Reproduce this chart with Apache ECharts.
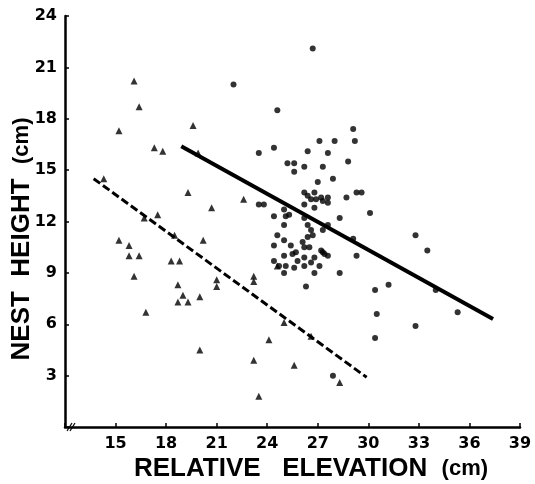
<!DOCTYPE html>
<html>
<head>
<meta charset="utf-8">
<script src="https://cdn.jsdelivr.net/npm/echarts@6/dist/echarts.min.js"></script>
<style>
  html, body { margin: 0; padding: 0; background: #fff; }
  #chart { width: 535px; height: 484px; }
</style>
</head>
<body>
<div id="chart"></div>
<script>
// triangles (left group)
const trianglePoints = [
  [16.1, 20.2], [16.4, 18.7], [15.2, 17.3], [19.6, 17.6], [17.3, 16.3], [17.8, 16.1],
  [19.9, 16.0], [14.3, 14.5], [19.3, 13.7], [22.6, 13.3], [20.7, 12.8], [17.5, 12.4],
  [16.7, 12.2], [18.5, 11.2], [20.2, 10.9], [15.2, 10.9], [15.8, 10.6], [15.8, 10.0],
  [16.4, 10.0], [16.1, 8.8], [16.8, 6.7], [18.3, 9.7], [18.8, 9.7], [18.7, 8.3],
  [19.0, 7.7], [18.7, 7.3], [19.3, 7.3], [20.0, 7.6], [21.0, 8.6], [21.0, 8.2],
  [20.0, 4.5], [23.2, 8.8], [23.2, 8.5], [23.2, 3.9], [23.5, 1.8], [24.1, 5.1],
  [25.0, 6.1], [25.6, 3.6], [26.6, 5.3], [28.3, 2.6], [24.6, 9.4]
];

// circles (right group)
const circlePoints = [
  [22.0, 20.0], [23.5, 16.0], [23.5, 13.0], [23.8, 13.0], [24.4, 12.3], [26.7, 22.1],
  [24.6, 18.5], [24.4, 16.3], [29.1, 17.4], [29.2, 16.7], [27.1, 16.7], [28.0, 16.7],
  [26.4, 16.1], [27.6, 16.0], [25.2, 15.4], [25.6, 15.4], [28.8, 15.5], [26.2, 15.2],
  [27.3, 15.2], [25.6, 14.9], [27.9, 14.5], [27.0, 14.3], [26.2, 13.7], [26.8, 13.7],
  [29.3, 13.7], [29.6, 13.7], [28.7, 13.4], [26.4, 13.5], [26.6, 13.3], [26.9, 13.3],
  [27.2, 13.4], [27.3, 13.2], [27.6, 13.4], [27.6, 13.1], [26.2, 13.0], [26.8, 12.8],
  [30.1, 12.5], [25.0, 12.7], [25.1, 12.3], [25.3, 12.4], [25.0, 11.8], [26.2, 12.2],
  [28.3, 12.2], [26.4, 11.8], [26.6, 11.5], [26.4, 11.1], [26.7, 11.2], [27.6, 11.8],
  [27.3, 11.5], [29.1, 11.0], [24.6, 11.2], [25.0, 10.9], [24.4, 10.6], [25.4, 10.6],
  [26.1, 10.8], [26.2, 10.5], [26.5, 10.5], [27.2, 10.3], [27.3, 10.2], [27.6, 10.0],
  [27.4, 10.1], [25.7, 10.2], [25.5, 10.1], [25.0, 10.0], [29.3, 10.0], [26.2, 9.9],
  [26.8, 9.9], [24.4, 9.7], [25.8, 9.7], [26.6, 9.6], [24.7, 9.4], [25.1, 9.4],
  [25.0, 9.0], [25.6, 9.3], [26.2, 9.4], [27.1, 9.4], [26.8, 9.0], [28.3, 9.0],
  [26.3, 8.2], [30.4, 8.0], [31.2, 8.3], [32.8, 11.2], [33.5, 10.3], [34.0, 8.0],
  [35.3, 6.7], [30.5, 6.6], [32.8, 5.9], [30.4, 5.2], [27.9, 3.0]
];

// fitted lines
const solidFit = [[18.9, 16.4], [37.4, 6.3]];
const dashedFit = [[13.7, 14.5], [29.9, 2.9]];

const chart = echarts.init(document.getElementById('chart'));

const tickFont = { fontFamily: 'DejaVu Sans', fontWeight: 'bold', fontSize: 16, color: '#000' };
const titleRich = {
  a: { fontFamily: 'Liberation Sans', fontWeight: 'bold', fontSize: 26, color: '#000' },
  b: { fontFamily: 'Liberation Sans', fontWeight: 'bold', fontSize: 22, color: '#000' }
};

chart.setOption({
  animation: false,
  backgroundColor: '#fff',
  grid: { left: 65, right: 15, top: 16, bottom: 57, outerBoundsMode: 'none' },
  xAxis: {
    type: 'value',
    min: 12,
    max: 39,
    interval: 3,
    splitLine: { show: false },
    axisLine: { lineStyle: { color: '#000', width: 2.5 } },
    axisTick: { inside: true, length: 4, lineStyle: { color: '#000', width: 1.5 } },
    axisLabel: Object.assign({ margin: 9, formatter: v => (v === 12 ? '' : v) }, tickFont),
    name: '{a|RELATIVE}   {a|ELEVATION}  {b|(cm)}',
    nameLocation: 'middle',
    nameGap: 29,
    nameMoveOverlap: false,
    nameTextStyle: { fontFamily: 'Liberation Sans', fontWeight: 'bold', fontSize: 26, padding: [0, 0, 0, 37], rich: titleRich }
  },
  yAxis: {
    type: 'value',
    min: 0,
    max: 24,
    interval: 3,
    splitLine: { show: false },
    axisLine: { lineStyle: { color: '#000', width: 2.5 } },
    axisTick: { inside: true, length: 4, lineStyle: { color: '#000', width: 1.5 } },
    axisLabel: Object.assign({ margin: 8, formatter: v => (v === 0 ? '' : v) }, tickFont),
    name: '{a|NEST}  {a|HEIGHT}  {b|(cm)}',
    nameLocation: 'middle',
    nameGap: 30,
    nameMoveOverlap: false,
    nameTextStyle: { fontFamily: 'Liberation Sans', fontWeight: 'bold', fontSize: 26, padding: [0, 35, 0, 0], rich: titleRich }
  },
  graphic: [
    { type: 'line', shape: { x1: 67, y1: 431, x2: 72, y2: 423 }, style: { stroke: '#000', lineWidth: 1.2 } },
    { type: 'line', shape: { x1: 70, y1: 431, x2: 75, y2: 423 }, style: { stroke: '#000', lineWidth: 1.2 } }
  ],
  series: [
    {
      type: 'scatter',
      symbol: 'triangle',
      symbolSize: 7,
      itemStyle: { color: '#000' },
      data: trianglePoints
    },
    {
      type: 'scatter',
      symbol: 'circle',
      symbolSize: 6,
      itemStyle: { color: '#000' },
      data: circlePoints
    },
    {
      type: 'line',
      data: solidFit,
      symbol: 'none',
      lineStyle: { color: '#000', width: 4 }
    },
    {
      type: 'line',
      data: dashedFit,
      symbol: 'none',
      lineStyle: { color: '#000', width: 3, type: [8, 3.5] }
    }
  ]
});
</script>
</body>
</html>
